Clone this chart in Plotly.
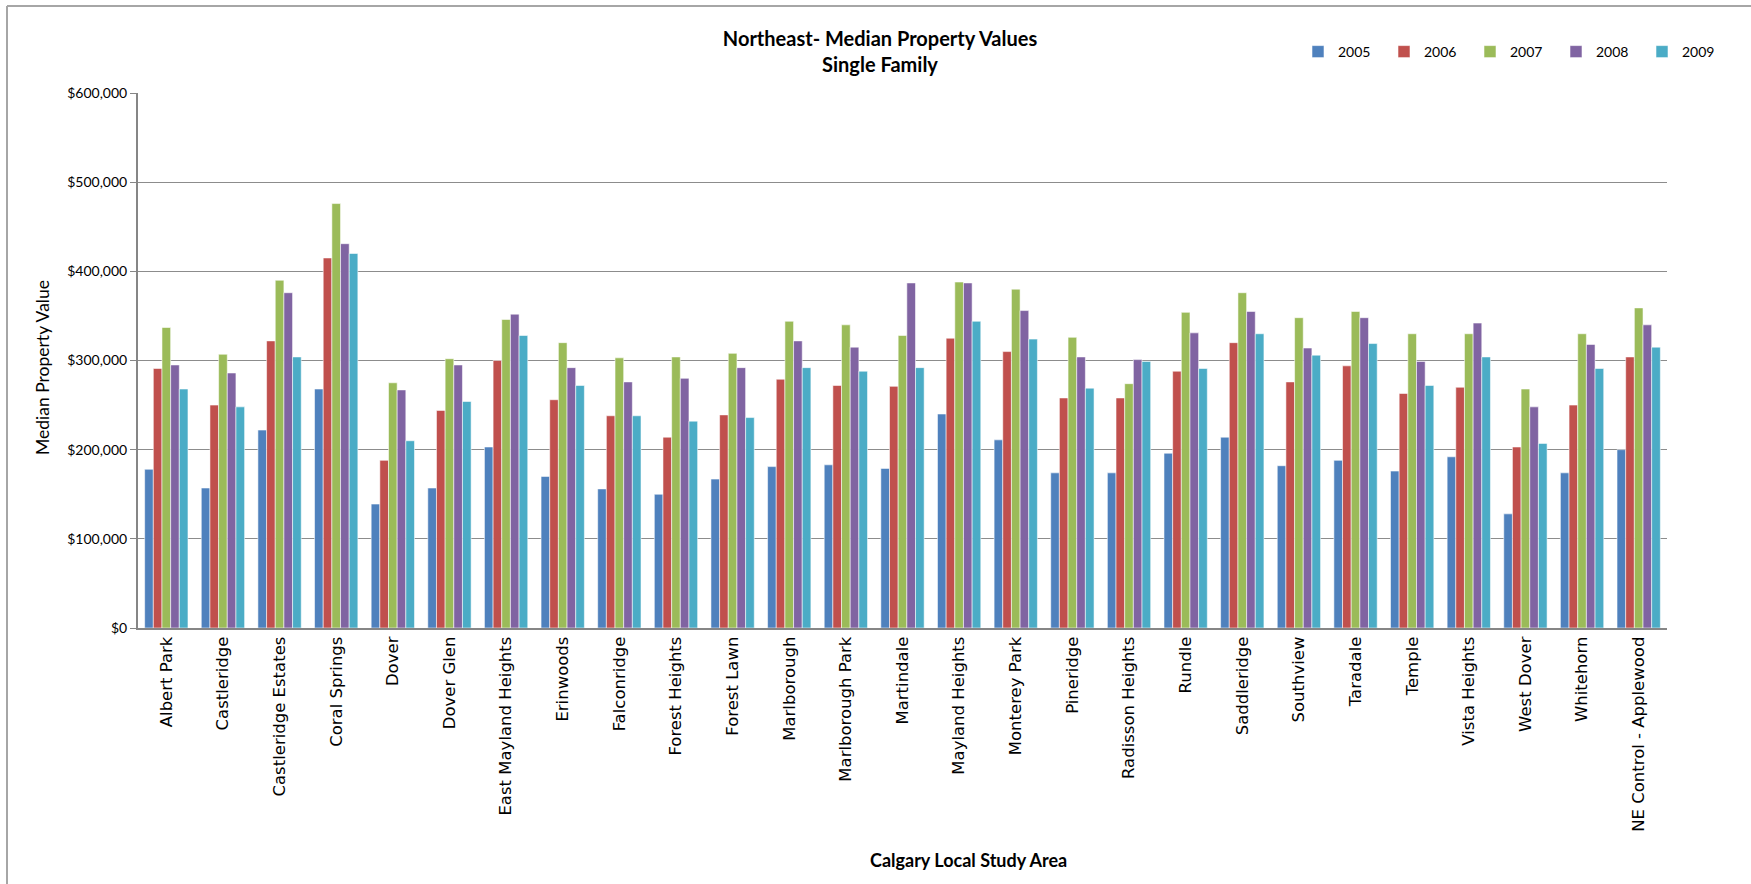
import plotly.graph_objects as go

areas = ["Albert Park", "Castleridge", "Castleridge Estates", "Coral Springs", "Dover",
         "Dover Glen", "East Mayland Heights", "Erinwoods", "Falconridge", "Forest Heights",
         "Forest Lawn", "Marlborough", "Marlborough Park", "Martindale", "Mayland Heights",
         "Monterey Park", "Pineridge", "Radisson Heights", "Rundle", "Saddleridge",
         "Southview", "Taradale", "Temple", "Vista Heights", "West Dover", "Whitehorn",
         "NE Control - Applewood"]

v2005 = [178000, 157000, 222000, 268000, 139000, 157000, 203000, 170000, 156000, 150000,
         167000, 181000, 183000, 179000, 240000, 211000, 174000, 174000, 196000, 214000,
         182000, 188000, 176000, 192000, 128000, 174000, 200000]
v2006 = [291000, 250000, 322000, 415000, 188000, 244000, 300000, 256000, 238000, 214000,
         239000, 279000, 272000, 271000, 325000, 310000, 258000, 258000, 288000, 320000,
         276000, 294000, 263000, 270000, 203000, 250000, 304000]
v2007 = [337000, 307000, 390000, 476000, 275000, 302000, 346000, 320000, 303000, 304000,
         308000, 344000, 340000, 328000, 388000, 380000, 326000, 274000, 354000, 376000,
         348000, 355000, 330000, 330000, 268000, 330000, 359000]
v2008 = [295000, 286000, 376000, 431000, 267000, 295000, 352000, 292000, 276000, 280000,
         292000, 322000, 315000, 387000, 387000, 356000, 304000, 301000, 331000, 355000,
         314000, 348000, 299000, 342000, 248000, 318000, 340000]
v2009 = [268000, 248000, 304000, 420000, 210000, 254000, 328000, 272000, 238000, 232000,
         236000, 292000, 288000, 292000, 344000, 324000, 269000, 299000, 291000, 330000,
         306000, 319000, 272000, 304000, 207000, 291000, 315000]

years = ["2005", "2006", "2007", "2008", "2009"]
series = [v2005, v2006, v2007, v2008, v2009]
colors = ["#4F81BD", "#C0504D", "#9BBB59", "#8064A2", "#4BACC6"]

W, H = 1751, 884
L, R, T, B = 138, 1751 - 1667, 93, 884 - 628
pw, ph = W - L - R, H - T - B

fig = go.Figure()
for name, vals, col in zip(years, series, colors):
    fig.add_trace(go.Bar(
        x=areas, y=vals, name=name,
        marker=dict(color=col, line=dict(color="rgba(255,255,255,0.55)", width=1)),
    ))

def px_x(x):
    return (x - L) / pw

def px_y(y):
    return (H - B - y) / ph

fig.update_layout(
    width=W, height=H,
    margin=dict(l=L, r=R, t=T, b=B),
    paper_bgcolor="white", plot_bgcolor="white",
    barmode="group", bargap=0.235, bargroupgap=0,
    font=dict(family="Lato, Open Sans, sans-serif", color="#000000"),
    title=dict(
        text="Northeast- Median Property Values<br>Single Family",
        x=880 / W, xanchor="center", y=1 - 46 / H, yanchor="middle",
        font=dict(family="Lato, Open Sans, sans-serif", size=20, color="#000000", weight="bold"),
    ),
    legend=dict(
        orientation="h", x=px_x(1298), xanchor="left", y=px_y(52), yanchor="middle",
        font=dict(size=14, family="Lato, Open Sans, sans-serif"),
        entrywidth=41, entrywidthmode="pixels", itemwidth=30,
        bgcolor="rgba(0,0,0,0)", traceorder="normal",
    ),
    xaxis=dict(
        tickangle=-90, showgrid=False,
        showline=True, linecolor="#868686", linewidth=2,
        ticks="", tickfont=dict(family="DejaVu Sans, Verdana, sans-serif", size=16.5, color="#000000"),
    ),
    yaxis=dict(
        range=[0, 600000], dtick=100000, tickprefix="$", tickformat=",",
        showgrid=True, gridcolor="#8C8C8C", gridwidth=1.2,
        showline=True, linecolor="#868686", linewidth=2,
        ticks="outside", ticklen=6, tickcolor="#868686",
        tickfont=dict(size=14, family="Lato, Open Sans, sans-serif", color="#000000"),
        zeroline=False,
    ),
    annotations=[
        dict(text="Median Property Value", xref="paper", yref="paper",
             x=px_x(43), y=px_y(368), textangle=-90, showarrow=False,
             xanchor="center", yanchor="middle",
             font=dict(size=17.5, family="Lato, Open Sans, sans-serif", color="#000000")),
        dict(text="<b>Calgary Local Study Area</b>", xref="paper", yref="paper",
             x=px_x(968), y=px_y(860), showarrow=False,
             xanchor="center", yanchor="middle",
             font=dict(size=18, family="Lato, Open Sans, sans-serif", color="#000000")),
    ],
    shapes=[
        dict(type="line", xref="paper", yref="paper",
             x0=px_x(7), x1=px_x(W + 5), y0=px_y(6), y1=px_y(6),
             line=dict(color="#A6A6A6", width=2)),
        dict(type="line", xref="paper", yref="paper",
             x0=px_x(7), x1=px_x(7), y0=px_y(6), y1=px_y(H + 5),
             line=dict(color="#A6A6A6", width=2)),
    ],
)

fig.write_html("out.html")
